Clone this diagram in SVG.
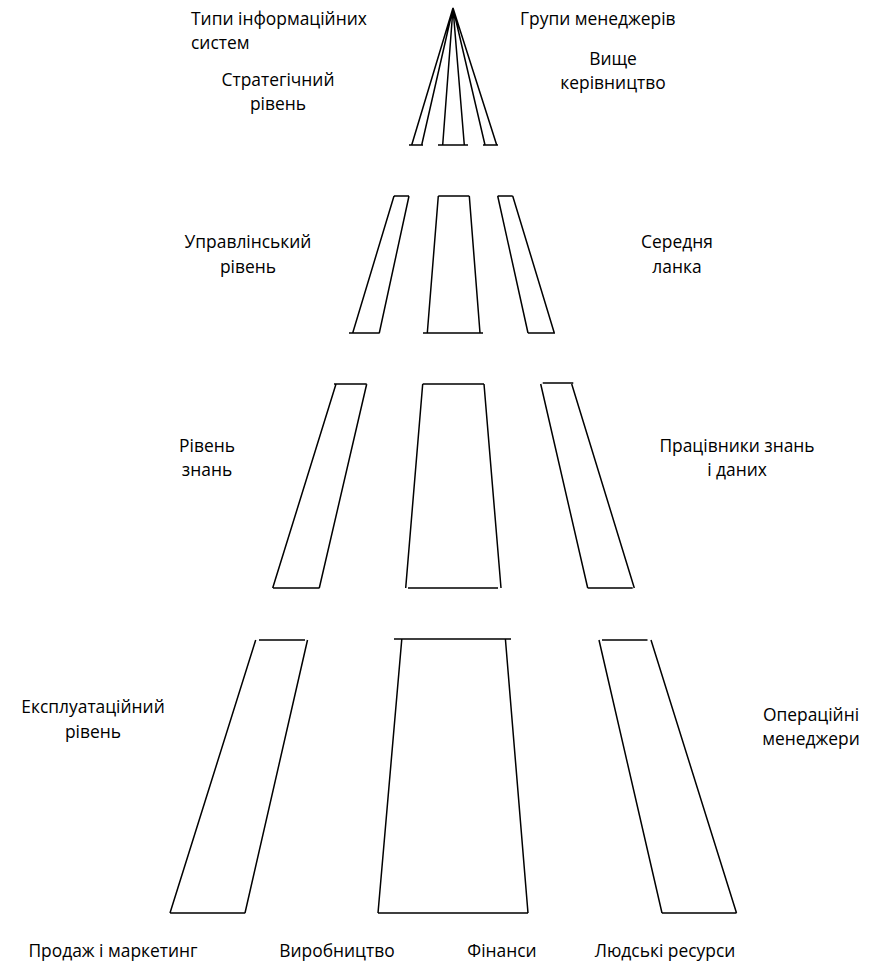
<svg xmlns="http://www.w3.org/2000/svg" width="884" height="968" viewBox="0 0 884 968">
<style>
.l{stroke:#000;stroke-width:1.5;fill:none;stroke-linecap:butt}
text{font-family:"Open Sans","Noto Sans","DejaVu Sans",sans-serif;font-size:17.4px;fill:#000}
.m{text-anchor:middle}
</style>
<rect width="884" height="968" fill="#fff"/>
<g id="connectors">
<g id="tier1">
<path class="l" d="M453,8 L411.7,145 M453,8 L421.7,145 M453,8 L442.7,145 M453,8 L464.3,145 M453,8 L485,145 M453,8 L496.7,145"/>
<path class="l" d="M409,145 H423 M438,145 H468 M483,145 H498"/>
</g>
<g id="tier2">
<path class="l" d="M394,196 H409 M394,196 L352.7,333 M409,196 L379.3,333 M349,333 H379.5"/>
<path class="l" d="M438.3,196 H469.3 M438.3,196 L427.3,333 M469.3,196 L480,333 M423,333 H483"/>
<path class="l" d="M497.7,196 H512.7 M497.7,196 L528,333 M512.7,196 L554.3,333 M528,333 H555"/>
</g>
<g id="tier3">
<path class="l" d="M334,384 H366.7 M336,384 L272.7,588 M366.7,384 L319.3,588 M273,588 H319.3"/>
<path class="l" d="M422.7,384 H484 M422.7,384 L405.7,588 M484,384 L501,588 M408,588 H498"/>
<path class="l" d="M542.7,383 H573.3 M540.7,384 L587.7,588 M571.7,384 L634.3,588 M587.7,588 H632.7"/>
</g>
<g id="tier4">
<path class="l" d="M259,640 H305 M255.7,640 L170,913 M307.5,640 L245,913 M170,913 H245"/>
<path class="l" d="M394,639 H511 M401.8,639 L378,913 M505.4,639 L528,913 M378,913 H528"/>
<path class="l" d="M602,640 H647.5 M599,640 L662,913 M651,640 L736.5,913 M662,913 H736.5"/>
</g>
</g>
<g id="header-left"><text x="191" y="25">Типи інформаційних</text><text x="191" y="49">систем</text></g>
<g id="header-right"><text x="520" y="25">Групи менеджерів</text></g>
<g id="strategic"><text class="m" x="278" y="86">Стратегічний</text><text class="m" x="278" y="110">рівень</text></g>
<g id="top-mgmt"><text class="m" x="613" y="65">Вище</text><text class="m" x="613" y="89">керівництво</text></g>
<g id="managerial"><text class="m" x="248" y="248">Управлінський</text><text class="m" x="248" y="273">рівень</text></g>
<g id="middle-mgmt"><text class="m" x="677" y="248">Середня</text><text class="m" x="677" y="273">ланка</text></g>
<g id="knowledge"><text class="m" x="207" y="452">Рівень</text><text class="m" x="207" y="476">знань</text></g>
<g id="knowledge-workers"><text class="m" x="737" y="452">Працівники знань</text><text class="m" x="737" y="476">і даних</text></g>
<g id="operational"><text class="m" x="93" y="713">Експлуатаційний</text><text class="m" x="93" y="738">рівень</text></g>
<g id="operational-mgrs"><text class="m" x="811" y="721">Операційні</text><text class="m" x="811" y="745">менеджери</text></g>
<g id="sales"><text class="m" x="113" y="957">Продаж і маркетинг</text></g>
<g id="production"><text class="m" x="337" y="957">Виробництво</text></g>
<g id="finance"><text class="m" x="502" y="957">Фінанси</text></g>
<g id="hr"><text class="m" x="665" y="957">Людські ресурси</text></g>
</svg>
